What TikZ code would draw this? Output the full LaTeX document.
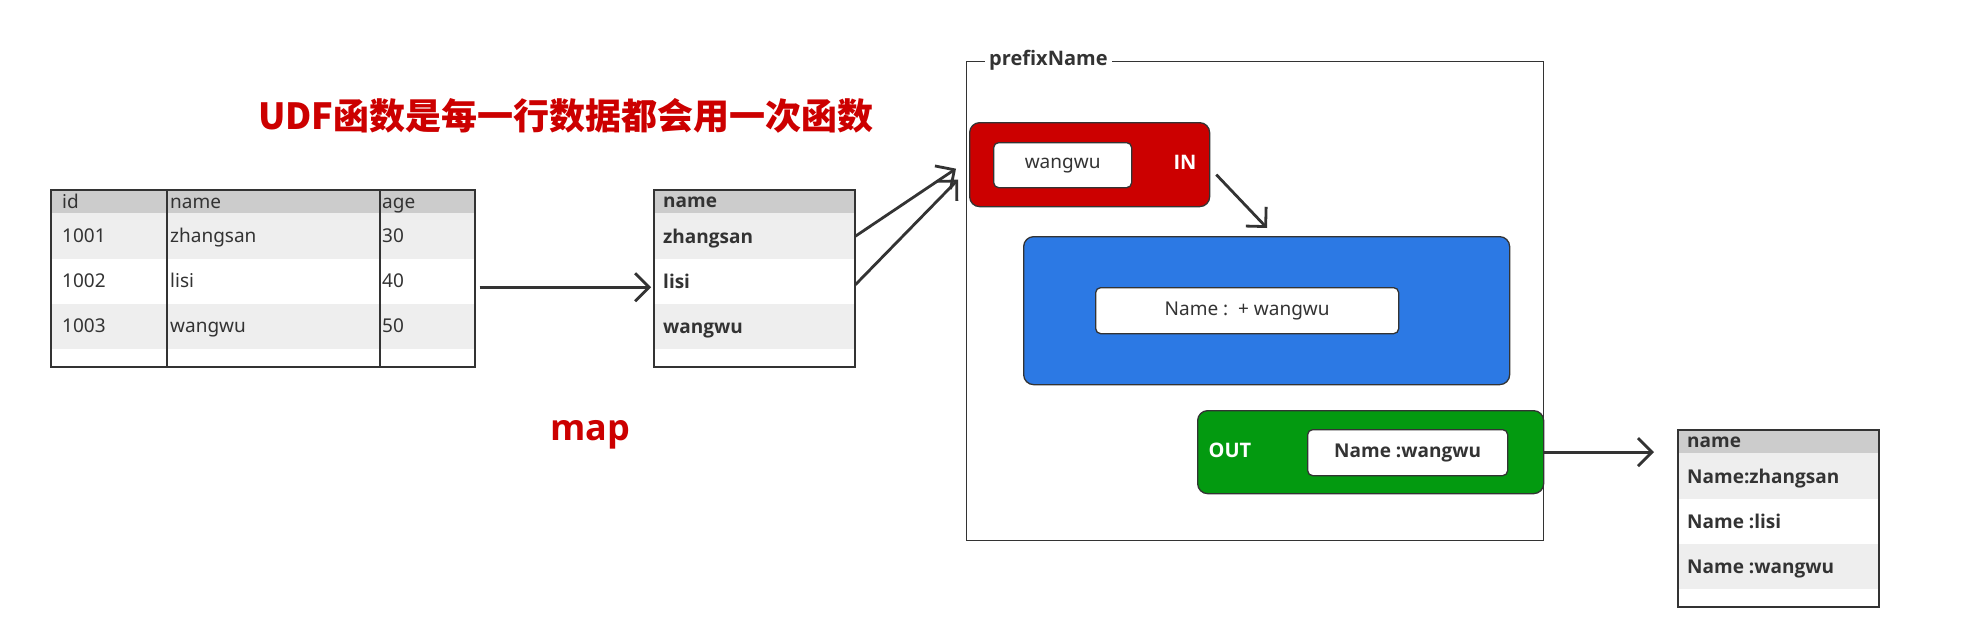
\documentclass[tikz,border=0pt]{standalone}
\usepackage{fontspec}
\setmainfont{Noto Sans}[BoldFont={Open Sans Bold}]
\newfontfamily\cjk{Noto Sans CJK SC}
\usetikzlibrary{arrows.meta,positioning,calc}
\definecolor{ink}{HTML}{333333}
\definecolor{udfred}{HTML}{CC0000}
\definecolor{udfblue}{HTML}{2C79E4}
\definecolor{udfgreen}{HTML}{039A10}
\definecolor{headgray}{HTML}{CCCCCC}
\definecolor{rowgray}{HTML}{EEEEEE}

\begin{document}
\begin{tikzpicture}[x=1pt,y=-1pt,
  txt/.style={font=\fontsize{19}{22}\selectfont,text=ink,inner sep=0pt,anchor=base west},
  boldtxt/.style={txt,font=\fontsize{19}{22}\selectfont\bfseries},
  cell/.style={fill=#1,inner sep=0pt,anchor=north west},
  tbl/.style={draw=ink,line width=1.5pt,inner sep=0pt,anchor=north west},
  rule/.style={draw=ink,line width=1.5pt},
  arr/.style={draw=ink,line width=2.8pt,-{Straight Barb[length=14pt,width=28pt]}},
  panel/.style={draw=ink,line width=1.3pt,rounded corners=10pt,inner sep=0pt,anchor=north west},
  field/.style={draw=ink,line width=1.3pt,fill=white,rounded corners=5pt,inner sep=0pt,anchor=north west,
    font=\fontsize{19}{22}\selectfont,text=ink},
  tag/.style={font=\fontsize{20}{24}\selectfont\bfseries,text=white,inner sep=0pt},
  redtxt/.style={text=udfred,inner sep=0pt,anchor=base west}]
\useasboundingbox (0,0) rectangle (1973,634);

% three tables: header, three rows and a blank row
\foreach \tb/\x/\y/\w in {t1/50/189/424, t2/653/189/201, t3/1677/429/201} {
  \node[cell=headgray,minimum width=\w pt,minimum height=24pt] (\tb-h) at (\x,\y) {};
  \node[cell=rowgray,minimum width=\w pt,minimum height=46pt] (\tb-r1) at (\x,\y+24) {};
  \node[cell=white,minimum width=\w pt,minimum height=45pt] (\tb-r2) at (\x,\y+70) {};
  \node[cell=rowgray,minimum width=\w pt,minimum height=45pt] (\tb-r3) at (\x,\y+115) {};
  \node[tbl,minimum width=\w pt,minimum height=177pt] (\tb) at (\x,\y) {};
}
\draw[rule] ([xshift=117pt]t1.north west) -- ([xshift=117pt]t1.south west);
\draw[rule] ([xshift=330pt]t1.north west) -- ([xshift=330pt]t1.south west);

% source table
\node[txt] (id) at (62,208) {id};
\node[txt] (nm) at (170,208) {name};
\node[txt] (age) at (382,208) {age};
\foreach \i/\n/\a [count=\k] in {1001/zhangsan/30, 1002/lisi/40, 1003/wangwu/50} {
  \node[txt] (id\k) at (62,197+45*\k) {\i};
  \node[txt] (nm\k) at (170,197+45*\k) {\n};
  \node[txt] (age\k) at (382,197+45*\k) {\a};
}

% name column
\node[boldtxt] (c2h) at (663,207) {name};
\foreach \n [count=\k] in {zhangsan, lisi, wangwu}
  \node[boldtxt] (c2\k) at (663,198+45*\k) {\n};

% result column
\node[boldtxt] (c3h) at (1687,447) {name};
\node[boldtxt] (c31) at (1687,483) {Name:zhangsan};
\node[boldtxt] (c32) at (1687,528) {Name :lisi};
\node[boldtxt] (c33) at (1687,573) {Name :wangwu};

% captions
\node[redtxt,font=\cjk\fontsize{36}{40}\selectfont\bfseries] (title) at (258,129) {UDF函数是每一行数据都会用一次函数};
\node[redtxt,font=\fontsize{36}{40}\selectfont\bfseries] (map) at (550,440) {map};

% the function frame
\node[draw=ink,line width=1.3pt,minimum width=577pt,minimum height=479pt,anchor=north west] (frame) at (966,61) {};
\node[fill=white,font=\fontsize{20}{24}\selectfont\bfseries,text=ink,inner xsep=4pt,inner ysep=2pt,anchor=base west]
  (fname) at (985,66) {prefixName};

\node[panel,fill=udfred,minimum width=240pt,minimum height=84pt] (udfin) at (969,122) {};
\node[field,minimum width=138pt,minimum height=45pt] (inval) at (993,142) {wangwu};
\node[tag] (inlabel) at (1185,162) {IN};

\node[panel,fill=udfblue,minimum width=486pt,minimum height=148pt] (udfcalc) at (1023,236) {};
\node[field,minimum width=303pt,minimum height=46pt] (calcval) at (1095,287) {Name :\ \ + wangwu};

\node[panel,fill=udfgreen,minimum width=346pt,minimum height=83pt] (udfout) at (1197,410) {};
\node[field,minimum width=200pt,minimum height=46pt,font=\fontsize{19}{22}\selectfont\bfseries] (outval) at (1307,429) {Name :wangwu};
\node[tag] (outlabel) at (1230,450) {OUT};

% connectors
\coordinate (tipA) at ([xshift=-13pt,yshift=-4pt]udfin.west);
\coordinate (tipB) at ([xshift=-11pt,yshift=-15pt]udfin.west);
\coordinate (calctop) at ([xshift=244pt,yshift=8pt]udfcalc.north west);
\coordinate (t3in) at ([xshift=-23pt]t3.west |- udfout.east);

\draw[arr] ([xshift=4pt,yshift=-9pt]t1.east) -- ([xshift=-2pt,yshift=-9pt]t2.west);
\draw[arr] ([xshift=1pt]t2-r1.east) -- (tipA);
\draw[arr] ([xshift=1pt,yshift=-3pt]t2-r2.east) -- (tipB);
\draw[arr] ([xshift=6pt,yshift=-10pt]udfin.east) -- (calctop);
\draw[arr] (udfout.east) -- (t3in);
\end{tikzpicture}
\end{document}
